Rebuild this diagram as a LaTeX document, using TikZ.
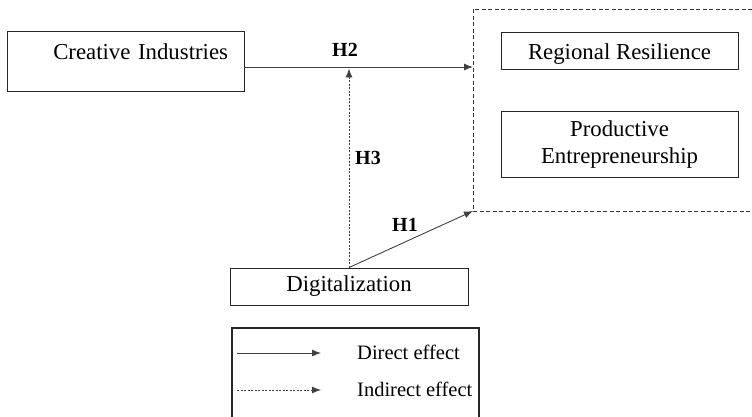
\documentclass[tikz,border=0pt]{standalone}
\usepackage{fontspec}
\setmainfont{Liberation Serif}
\usetikzlibrary{arrows.meta,calc}
\begin{document}
\begin{tikzpicture}[x=1pt,y=-1pt,
  box/.style={draw=black!85, line width=0.9pt, inner sep=0pt, font=\fontsize{22.8}{27}\selectfont, align=center},
  hlab/.style={font=\fontsize{20}{24}\selectfont\bfseries, inner sep=0pt},
  leg/.style={font=\fontsize{20.5}{24}\selectfont, anchor=west, inner sep=0pt},
  direct/.style={draw=black!75, line width=0.9pt, -{Latex[length=9pt,width=7pt]}},
  indirect/.style={draw=black!75, line width=0.9pt, dash pattern=on 2pt off 1.5pt, -{Latex[length=9pt,width=7pt]}},
  grpline/.style={draw=black!80, line width=0.9pt, dash pattern=on 4pt off 2.5pt}]
\useasboundingbox (0,0) rectangle (752,417);
% boxes
\node[box, minimum width=237pt, minimum height=60pt, text width=205pt, inner xsep=16pt, align=right, text height=29pt, text depth=31pt] (ci) at (125.5,61) {Creative Industries};
\node[box, minimum width=237pt, minimum height=37pt, text height=20pt, text depth=2pt] (rr) at (619.5,50.5) {Regional Resilience};
\node[box, minimum width=237pt, minimum height=66pt] (pe) at (619.5,144.5) {Productive\\Entrepreneurship};
\node[box, minimum width=238pt, minimum height=37pt] (dig) at (349,286.5) {Digitalization};
% dashed group
\coordinate (gTL) at (473,9);
\coordinate (gBL) at (473,211);
\coordinate (gTR) at (752,9);
\coordinate (gBR) at (752,211);
\draw[grpline] (gTR) -- (gTL) -- (gBL) -- (gBR);
% connectors
\coordinate (h2end) at (473,67);
\draw[direct] (ci.east |- h2end) -- (h2end);
\coordinate (h3end) at ($(dig.north |- h2end)+(0,1.5)$);
\draw[indirect] (dig.north) -- (h3end);
\draw[direct] (dig.north) -- (gBL);
% labels
\node[hlab] (h2) at (345,50) {H2};
\node[hlab] (h3) at (368,158) {H3};
\node[hlab] (h1) at (405,225) {H1};
% legend
\node[draw=black!85, line width=1.8pt, minimum width=247pt, minimum height=110pt, anchor=north west, inner sep=0pt] (legbox) at (231,327) {};
\coordinate (l1a) at (237,353);
\coordinate (l1b) at (321,353);
\coordinate (l2a) at (237,390);
\coordinate (l2b) at (321,390);
\draw[direct] (l1a) -- (l1b);
\draw[indirect] (l2a) -- (l2b);
\node[leg] (t1) at (357,352) {Direct effect};
\node[leg] (t2) at (357,389) {Indirect effect};
\end{tikzpicture}
\end{document}
